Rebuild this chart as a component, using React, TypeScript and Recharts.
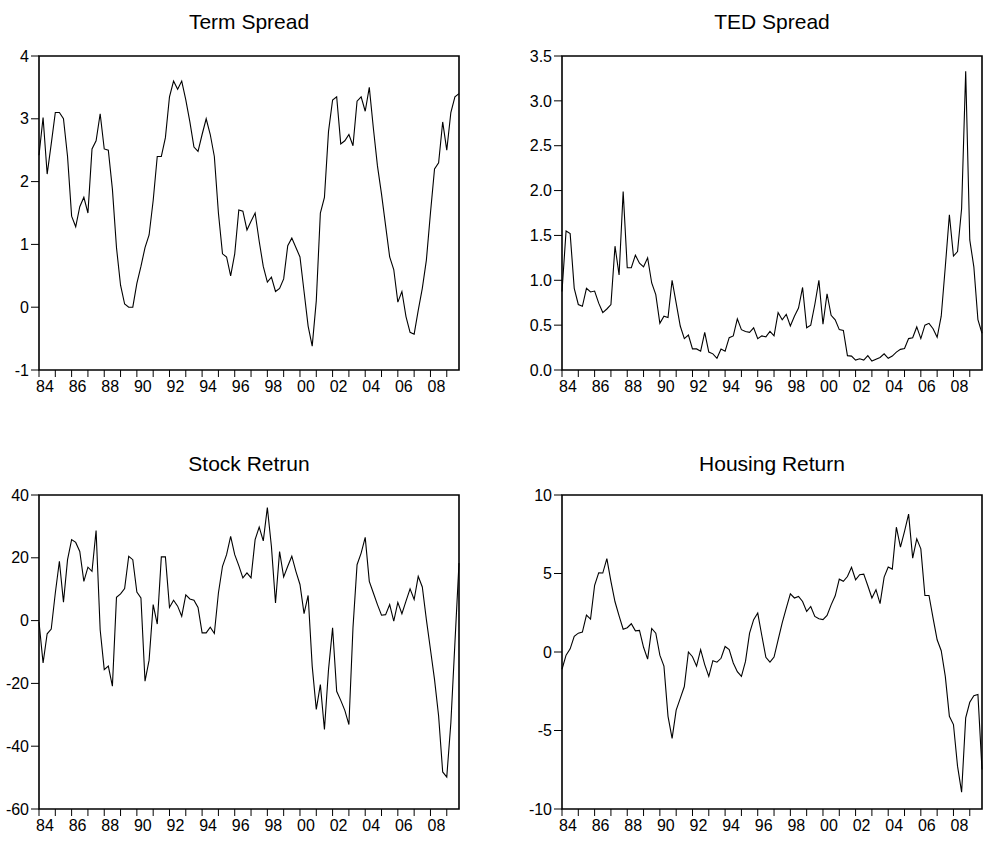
import React from 'react';
import { LineChart, Line, XAxis, YAxis, ReferenceArea } from 'recharts';

// quarterly observations 1984Q1 .. 2009Q4, one year label per 4 quarters
const years = [
  '84', '85', '86', '87', '88', '89', '90', '91', '92', '93', '94', '95', '96',
  '97', '98', '99', '00', '01', '02', '03', '04', '05', '06', '07', '08', '09',
];

const termSpread = [
  2.42, 3.02, 2.12, 2.6, 3.1, 3.1, 3.0, 2.4, 1.45, 1.28,
  1.6, 1.75, 1.5, 2.52, 2.65, 3.08, 2.52, 2.5, 1.88, 0.95,
  0.35, 0.05, 0.0, 0.0, 0.38, 0.65, 0.95, 1.15, 1.7, 2.4,
  2.4, 2.7, 3.35, 3.6, 3.47, 3.6, 3.3, 2.95, 2.55, 2.48,
  2.75, 3.0, 2.75, 2.4, 1.5, 0.85, 0.8, 0.5, 0.85, 1.55,
  1.53, 1.23, 1.37, 1.5, 1.05, 0.65, 0.4, 0.48, 0.25, 0.3,
  0.45, 0.98, 1.1, 0.95, 0.8, 0.25, -0.3, -0.62, 0.1, 1.5,
  1.75, 2.8, 3.3, 3.35, 2.6, 2.65, 2.75, 2.57, 3.28, 3.35,
  3.12, 3.5, 2.85, 2.25, 1.8, 1.3, 0.8, 0.6, 0.08, 0.25,
  -0.15, -0.4, -0.43, -0.05, 0.3, 0.75, 1.5, 2.2, 2.3, 2.95,
  2.5, 3.1, 3.35, 3.4,
];

const tedSpread = [
  0.875, 1.55, 1.52, 0.91, 0.73, 0.71, 0.91, 0.87, 0.88, 0.745,
  0.64, 0.68, 0.73, 1.38, 1.06, 1.99, 1.14, 1.14, 1.28, 1.19,
  1.15, 1.25, 0.97, 0.84, 0.52, 0.6, 0.585, 1.0, 0.745, 0.49,
  0.35, 0.39, 0.235, 0.235, 0.21, 0.42, 0.2, 0.18, 0.13, 0.235,
  0.21, 0.36, 0.38, 0.57, 0.45, 0.43, 0.42, 0.47, 0.35, 0.38,
  0.37, 0.43, 0.38, 0.64, 0.56, 0.62, 0.49, 0.6, 0.69, 0.92,
  0.47, 0.5, 0.73, 1.0, 0.51, 0.85, 0.61, 0.56, 0.45, 0.44,
  0.16, 0.155, 0.11, 0.125, 0.11, 0.16, 0.1, 0.12, 0.14, 0.18,
  0.13, 0.155, 0.2, 0.23, 0.24, 0.35, 0.36, 0.48, 0.35, 0.5,
  0.52, 0.46, 0.365, 0.6, 1.15, 1.73, 1.27, 1.32, 1.8, 3.33,
  1.45, 1.15, 0.56, 0.41,
];

const stockReturn = [
  -0.5, -13.5, -4.2, -2.7, 8.8, 18.9, 5.9, 19.4, 25.8, 24.9,
  22, 12.5, 17, 15.7, 28.7, -2.9, -15.6, -14.5, -20.9, 7.4,
  8.5, 10.2, 20.5, 19.4, 9.1, 7.2, -19.3, -12.6, 5.1, -1.1,
  20.3, 20.3, 4.2, 6.5, 4.6, 1.4, 8.2, 6.9, 6.5, 4.2,
  -3.9, -3.9, -2.1, -4.1, 8.8, 17.3, 21, 26.8, 21, 17.5,
  13.6, 15.2, 13.6, 25.8, 29.8, 25.4, 36, 23.6, 5.6, 22,
  13.9, 17.3, 20.5, 15.7, 11.5, 2.2, 8, -14.5, -28.3, -20.4,
  -34.7, -15.6, -2.3, -22.5, -25.4, -28.6, -33.1, -2.3, 17.8, 21.5,
  26.5, 12.5, 8.8, 5.1, 1.7, 1.9, 5.1, -0.2, 5.8, 2.2,
  6.2, 10.1, 6.7, 14.1, 10.7, 0.3, -9.2, -18.8, -30.4, -48.2,
  -49.8, -32.6, -7.1, 18.3,
];

const housingReturn = [
  -1.1, -0.2, 0.2, 1.0, 1.2, 1.27, 2.35, 2.1, 4.25, 5.05,
  5.03, 5.95, 4.5, 3.2, 2.3, 1.45, 1.55, 1.8, 1.35, 1.38,
  0.3, -0.45, 1.5, 1.2, -0.2, -0.9, -4.1, -5.5, -3.7, -2.95,
  -2.2, 0.0, -0.3, -0.9, 0.15, -0.8, -1.55, -0.55, -0.65, -0.4,
  0.35, 0.15, -0.7, -1.25, -1.55, -0.6, 1.2, 2.06, 2.48, 1.05,
  -0.34, -0.64, -0.32, 0.78, 1.85, 2.8, 3.71, 3.44, 3.54, 3.22,
  2.59, 2.9, 2.27, 2.12, 2.06, 2.33, 3.0, 3.58, 4.64, 4.5,
  4.81, 5.39, 4.6, 4.92, 4.96, 4.22, 3.44, 3.97, 3.08, 4.77,
  5.41, 5.28, 7.95, 6.68, 7.68, 8.78, 5.98, 7.21, 6.57, 3.6,
  3.6, 2.16, 0.78, 0.08, -1.55, -4.1, -4.62, -7.27, -8.93, -4.2,
  -3.2, -2.78, -2.71, -7.49,
];

const termTicks = [-1, 0, 1, 2, 3, 4];
const tedTicks = [0, 0.5, 1, 1.5, 2, 2.5, 3, 3.5];
const stockTicks = [-60, -40, -20, 0, 20, 40];
const housingTicks = [-10, -5, 0, 5, 10];

const rows = termSpread.map((_, i) => ({
  idx: i,
  term: termSpread[i],
  ted: tedSpread[i],
  stock: stockReturn[i],
  housing: housingReturn[i],
}));

const lastIdx = rows.length - 1;
const yearTicks = years.map((_, k) => k * 4);

const FONT = '"Liberation Sans", Arial, Helvetica, sans-serif';

const XTick = (props: any) => {
  const { x, y, payload } = props;
  const k = Math.round(payload.value / 4);
  if (k % 2 !== 0) return <g />;
  return (
    <text x={x + 6} y={y} dy="0.71em" textAnchor="middle" fontSize={16} fontFamily={FONT} fill="#000">
      {years[k]}
    </text>
  );
};

interface PanelProps {
  title: string;
  dataKey: string;
  ticks: number[];
  decimals: number;
  left: number;
  top: number;
  axisWidth: number;
  rightGap: number;
  topGap: number;
  titleTop: number;
}

const Panel: React.FC<PanelProps> = ({ title, dataKey, ticks, decimals, left, top, axisWidth, rightGap, topGap, titleTop }) => {
  const plotW = 420;
  const plotH = 314;
  const width = axisWidth + plotW + rightGap;
  const height = topGap + plotH + 30;
  const lo = ticks[0];
  const hi = ticks[ticks.length - 1];
  return (
    <div style={{ position: 'absolute', left, top, width, height }}>
      <div
        style={{
          position: 'absolute',
          left: axisWidth,
          width: plotW,
          top: titleTop,
          textAlign: 'center',
          fontFamily: FONT,
          fontSize: 21,
          lineHeight: '21px',
          color: '#000',
        }}
      >
        {title}
      </div>
      <LineChart width={width} height={height} data={rows} margin={{ top: topGap, right: rightGap, bottom: 0, left: 0 }}>
        <XAxis
          dataKey="idx"
          type="number"
          domain={[0, lastIdx]}
          ticks={yearTicks}
          interval={0}
          height={30}
          tickSize={7}
          tickMargin={4}
          axisLine={false}
          tickLine={{ stroke: '#000', strokeWidth: 1 }}
          tick={<XTick />}
        />
        <YAxis
          type="number"
          domain={[lo, hi]}
          ticks={ticks}
          interval={0}
          width={axisWidth}
          tickSize={8}
          tickMargin={2}
          axisLine={false}
          tickLine={{ stroke: '#000', strokeWidth: 1 }}
          tick={{ fill: '#000', fontSize: 16, fontFamily: FONT }}
          tickFormatter={(v: number) => v.toFixed(decimals)}
        />
        <ReferenceArea x1={0} x2={lastIdx} y1={lo} y2={hi} fill="none" stroke="#000" strokeWidth={1.6} ifOverflow="visible" />
        <Line
          type="linear"
          dataKey={dataKey}
          stroke="#000"
          strokeWidth={1.1}
          dot={false}
          activeDot={false}
          isAnimationActive={false}
        />
      </LineChart>
    </div>
  );
};

export default function App() {
  return (
    <div style={{ position: 'absolute', left: 0, top: 0, width: 987, height: 842, background: '#fff' }}>
      <Panel title="Term Spread" dataKey="term" ticks={termTicks} decimals={0} left={0} top={0} axisWidth={39} rightGap={20} topGap={56} titleTop={11} />
      <Panel title="TED Spread" dataKey="ted" ticks={tedTicks} decimals={1} left={520} top={0} axisWidth={42} rightGap={5} topGap={56} titleTop={11} />
      <Panel title="Stock Retrun" dataKey="stock" ticks={stockTicks} decimals={0} left={0} top={440} axisWidth={39} rightGap={20} topGap={55} titleTop={13} />
      <Panel title="Housing Return" dataKey="housing" ticks={housingTicks} decimals={0} left={520} top={440} axisWidth={42} rightGap={5} topGap={55} titleTop={13} />
    </div>
  );
}
